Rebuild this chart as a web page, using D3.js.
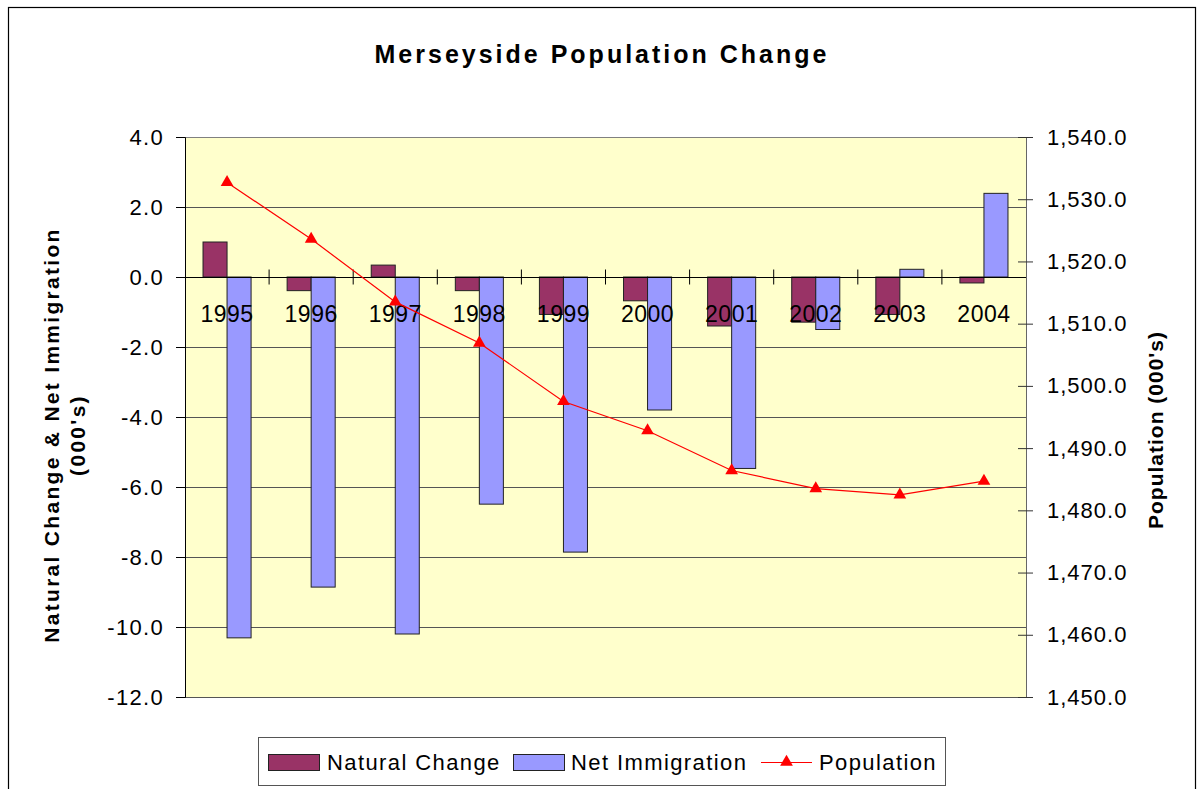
<!DOCTYPE html>
<html><head><meta charset="utf-8">
<script src="https://cdn.jsdelivr.net/npm/d3@7/dist/d3.min.js"></script>
<style>body{margin:0;background:#fff}svg{display:block;font-family:"Liberation Sans",Arial,sans-serif}</style>
</head><body><svg id="c" width="1201" height="789"></svg>
<script>
const years = ['1995','1996','1997','1998','1999','2000','2001','2002','2003','2004'];
const naturalChange = [1.0,-0.39,0.34,-0.39,-1.07,-0.68,-1.4,-1.29,-1.07,-0.17];
const netImmigration = [-10.31,-8.86,-10.2,-6.49,-7.86,-3.8,-5.47,-1.5,0.22,2.39];
const population = [1532.7,1523.6,1513.5,1506.9,1497.5,1492.8,1486.4,1483.5,1482.5,1484.7];
const leftTicks = [-12,-10,-8,-6,-4,-2,0,2,4];
const rightTicks = [1450,1460,1470,1480,1490,1500,1510,1520,1530,1540];
const seriesNames = ['Natural Change','Net Immigration','Population'];
const colors = ['#993366','#9999FF','#FF0000'];

const svg = d3.select('#c');
const L=185,R=1026,T=137,B=697;
svg.append('rect').attr('x',8.5).attr('y',7.5).attr('width',1187).attr('height',800).attr('fill','#fff').attr('stroke','#000').attr('stroke-width',1.2);

const x = d3.scaleBand().domain(years).range([L,R]);
const y = d3.scaleLinear().domain([-12,4]).range([B,T]);
const y2 = d3.scaleLinear().domain([1450,1540]).range([B,T]);
const bw = x.bandwidth()/3.5;

svg.append('rect').attr('x',L).attr('y',T).attr('width',R-L).attr('height',B-T).attr('fill','#FFFFCC');
svg.append('g').selectAll('line').data(leftTicks.filter(d=>d!==0)).join('line')
  .attr('x1',L).attr('x2',R).attr('y1',d=>Math.round(y(d))+0.5).attr('y2',d=>Math.round(y(d))+0.5)
  .attr('stroke',d=>d===4?'#808080':'#555').attr('stroke-width',1);

const g = svg.append('g');
g.selectAll('.nc').data(naturalChange).join('rect')
  .attr('x',(d,i)=>x(years[i])+0.75*bw).attr('width',bw)
  .attr('y',d=>y(Math.max(0,d))).attr('height',d=>Math.abs(y(d)-y(0)))
  .attr('fill',colors[0]).attr('stroke','#222').attr('stroke-width',1);
g.selectAll('.ni').data(netImmigration).join('rect')
  .attr('x',(d,i)=>x(years[i])+1.75*bw).attr('width',bw)
  .attr('y',d=>y(Math.max(0,d))).attr('height',d=>Math.abs(y(d)-y(0)))
  .attr('fill',colors[1]).attr('stroke','#222').attr('stroke-width',1);

const fmtL = d => d3.format('.1f')(d).replace('\u2212','-');
const la = svg.append('g').attr('transform',`translate(${L},0)`)
  .call(d3.axisLeft(y).tickValues(leftTicks).tickFormat(fmtL).tickSize(9).tickPadding(12));
la.select('.domain').attr('stroke','#000');
la.selectAll('.tick line').attr('stroke','#000');
la.selectAll('text').attr('font-size',22).attr('letter-spacing','1.3px').attr('fill','#000').attr('font-family','"Liberation Sans",Arial,sans-serif');

const ra = svg.append('g').attr('transform',`translate(${R},0)`)
  .call(d3.axisRight(y2).tickValues(rightTicks).tickFormat(d3.format(',.1f')).tickSize(7).tickPadding(14));
ra.select('.domain').attr('stroke','#666');
ra.selectAll('.tick line').attr('x1',-8).attr('stroke','#333');
ra.selectAll('text').attr('font-size',22).attr('letter-spacing','1px').attr('fill','#000').attr('font-family','"Liberation Sans",Arial,sans-serif');

const y0 = Math.round(y(0))+0.5;
svg.append('line').attr('x1',L).attr('x2',R).attr('y1',y0).attr('y2',y0).attr('stroke','#000');
svg.append('g').selectAll('line').data(years.slice(1)).join('line')
  .attr('x1',d=>x(d)).attr('x2',d=>x(d)).attr('y1',y0-8).attr('y2',y0+7).attr('stroke','#000');
svg.append('g').selectAll('text').data(years).join('text')
  .attr('x',d=>x(d)+x.bandwidth()/2).attr('y',y0+44).attr('text-anchor','middle')
  .attr('font-size',23).attr('letter-spacing','0.5px').text(d=>d);

const line = d3.line().x((d,i)=>x(years[i])+x.bandwidth()/2).y(d=>y2(d));
svg.append('path').datum(population).attr('d',line).attr('fill','none').attr('stroke',colors[2]).attr('stroke-width',1.2);
const tri = d3.symbol().type(d3.symbolTriangle).size(70);
svg.append('g').selectAll('path').data(population).join('path')
  .attr('transform',(d,i)=>`translate(${x(years[i])+x.bandwidth()/2},${y2(d)})`)
  .attr('d',tri).attr('fill',colors[2]);

svg.append('text').attr('x',602).attr('y',63).attr('text-anchor','middle').attr('font-size',25)
  .attr('font-weight','bold').attr('letter-spacing','3px').text('Merseyside Population Change');
const lt = svg.append('text').attr('transform','translate(0,435) rotate(-90)').attr('text-anchor','middle')
  .attr('font-size',21).attr('font-weight','bold').attr('letter-spacing','2.3px');
lt.append('tspan').attr('x',0).attr('y',59).text('Natural Change & Net Immigration');
lt.append('tspan').attr('x',0).attr('y',85).text("(000's)");
svg.append('text').attr('transform','translate(1163,430) rotate(-90)').attr('text-anchor','middle')
  .attr('font-size',21).attr('font-weight','bold').attr('letter-spacing','1px').text("Population (000's)");

const lg = svg.append('g');
lg.append('rect').attr('x',258.5).attr('y',737.5).attr('width',687).attr('height',48).attr('fill','#fff').attr('stroke','#555');
const items = [
  {name:seriesNames[0],sx:268,tx:327,type:'bar',c:colors[0]},
  {name:seriesNames[1],sx:513,tx:571,type:'bar',c:colors[1]},
  {name:seriesNames[2],sx:761,tx:819,type:'line',c:colors[2]}
];
items.forEach(it=>{
  if(it.type==='bar'){
    lg.append('rect').attr('x',it.sx+0.5).attr('y',754.5).attr('width',51).attr('height',16).attr('fill',it.c).attr('stroke','#222');
  } else {
    lg.append('line').attr('x1',it.sx).attr('x2',it.sx+51).attr('y1',762.5).attr('y2',762.5).attr('stroke',it.c).attr('stroke-width',1.2);
    lg.append('path').attr('transform',`translate(${it.sx+25.5},762)`).attr('d',tri).attr('fill',it.c);
  }
  lg.append('text').attr('x',it.tx).attr('y',770).attr('font-size',22).attr('letter-spacing','1.4px').text(it.name);
});
</script></body></html>
